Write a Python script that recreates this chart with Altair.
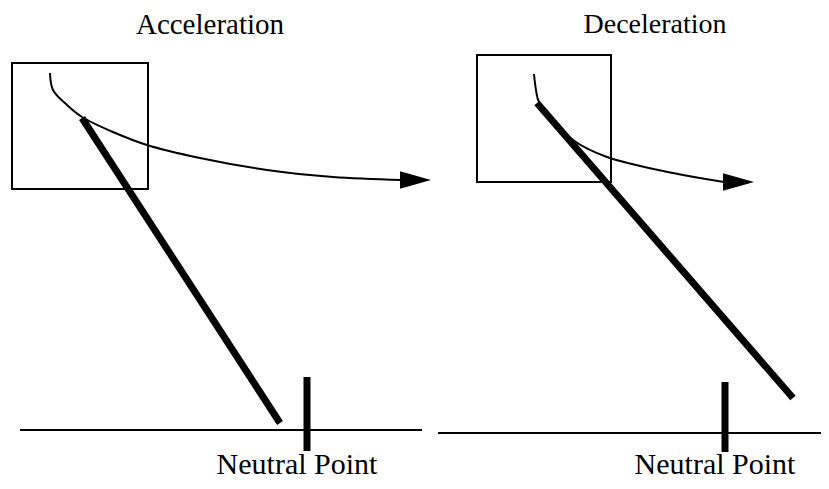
import altair as alt
import pandas as pd

# ---- values (pixel coordinates of the figure) ----
panel_titles = ["Acceleration", "Deceleration"]
title_x = [210, 655]
title_y = [34, 33]
title_size = [29, 28]

box_x1 = [12, 477]
box_x2 = [148, 611]
box_y1 = [63, 55]
box_y2 = [189, 182]

left_curve_x = [50, 53, 67, 82, 113, 147, 200, 267, 333, 402]
left_curve_y = [73, 90, 105, 117, 132, 145, 158, 170, 177, 180]
right_curve_x = [534, 536, 539, 556, 573, 607, 673, 724]
right_curve_y = [74, 90, 102, 122, 140, 157, 173, 182]

arrow_tip_x = [431, 754]
arrow_tip_y = [180, 182]
arrow_len = 31

arm_x1 = [82, 537]
arm_y1 = [118, 103]
arm_x2 = [280, 793]
arm_y2 = [423, 398]

ground_x1 = [20, 438]
ground_x2 = [422, 829]
ground_y = [430, 433]

tick_x = [307, 725]
tick_y1 = [377, 382]
tick_y2 = [451, 452]

label_text = ["Neutral Point", "Neutral Point"]
label_x = [297, 715]
label_y = [474, 474]
label_size = 30

FONT = "Liberation Serif"

# ---- build tables ----
boxes = pd.DataFrame({"x": box_x1, "x2": box_x2, "y": box_y1, "y2": box_y2})
curves = pd.concat([
    pd.DataFrame({"x": left_curve_x, "y": left_curve_y, "panel": "a",
                  "order": range(len(left_curve_x))}),
    pd.DataFrame({"x": right_curve_x, "y": right_curve_y, "panel": "d",
                  "order": range(len(right_curve_x))}),
])
arrows = pd.DataFrame({"x": [t - arrow_len / 2 for t in arrow_tip_x], "y": arrow_tip_y})
arms = pd.DataFrame({"x": arm_x1, "y": arm_y1, "x2": arm_x2, "y2": arm_y2})
grounds = pd.DataFrame({"x": ground_x1, "x2": ground_x2, "y": ground_y})
ticks = pd.DataFrame({"x": tick_x, "y": tick_y1, "y2": tick_y2})
titles = pd.DataFrame({"x": title_x, "y": title_y, "t": panel_titles, "fs": title_size})
labels = pd.DataFrame({"x": label_x, "y": label_y, "t": label_text})

W, H = 813, 473
xs = alt.Scale(domain=[8, 8 + W], nice=False, zero=False)
ys = alt.Scale(domain=[8, 8 + H], nice=False, zero=False, reverse=True)
X = alt.X("x:Q", scale=xs, axis=None)
Y = alt.Y("y:Q", scale=ys, axis=None)

box_layer = alt.Chart(boxes).mark_rect(fill=None, stroke="black", strokeWidth=2).encode(
    x=X, x2="x2:Q", y=Y, y2="y2:Q")

curve_layer = alt.Chart(curves).mark_line(color="black", strokeWidth=2,
                                          interpolate="catmull-rom").encode(
    x=X, y=Y, detail="panel:N", order="order:Q")

arrow_layer = alt.Chart(arrows).mark_point(
    shape="M-1,-0.56L1,0L-1,0.56Z", filled=True, color="black", opacity=1,
    size=arrow_len ** 2, strokeWidth=0).encode(x=X, y=Y)

arm_layer = alt.Chart(arms).mark_rule(color="black", strokeWidth=7).encode(
    x=X, y=Y, x2="x2:Q", y2="y2:Q")

ground_layer = alt.Chart(grounds).mark_rule(color="black", strokeWidth=2).encode(
    x=X, x2="x2:Q", y=Y)

tick_layer = alt.Chart(ticks).mark_rule(color="black", strokeWidth=7).encode(
    x=X, y=Y, y2="y2:Q")

title_layer = alt.Chart(titles).mark_text(font=FONT, baseline="alphabetic",
                                          align="center", color="black").encode(
    x=X, y=Y, text="t:N", size=alt.Size("fs:Q", scale=None, legend=None))

label_layer = alt.Chart(labels).mark_text(font=FONT, fontSize=label_size,
                                          baseline="alphabetic", align="center",
                                          color="black").encode(x=X, y=Y, text="t:N")

chart = alt.layer(box_layer, curve_layer, arrow_layer, arm_layer, ground_layer,
                  tick_layer, title_layer, label_layer).properties(
    width=W, height=H, autosize=alt.AutoSizeParams(type="none"), padding=0,
    background="white"
).configure_view(strokeWidth=0)

chart.save("out.html", embed_options={"renderer": "svg", "actions": False})
